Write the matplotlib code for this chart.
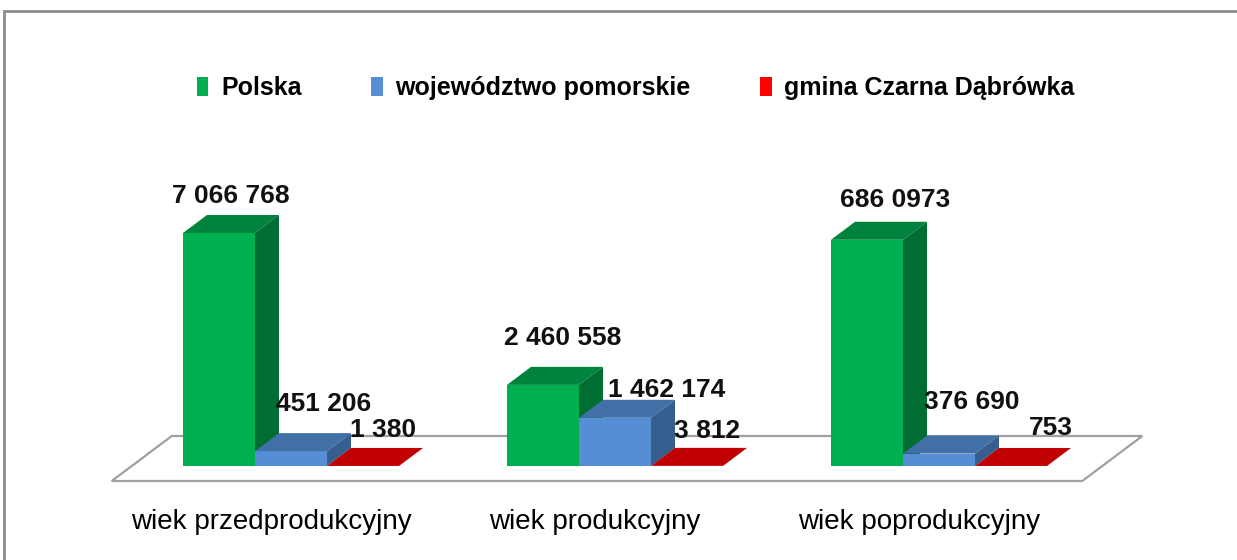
import numpy as np
import matplotlib
matplotlib.use("Agg")
import matplotlib.pyplot as plt
from matplotlib.patches import Polygon, Rectangle, Patch

plt.rcParams['font.family'] = ['Liberation Sans', 'DejaVu Sans']

# data
categories = ['wiek przedprodukcyjny', 'wiek produkcyjny', 'wiek poprodukcyjny']
series = ['Polska', 'województwo pomorskie', 'gmina Czarna Dąbrówka']
polska = [7066768, 2460558, 6860973]
pomorskie = [451206, 1462174, 376690]
gmina = [1380, 3812, 753]
value_labels = [['7 066 768', '2 460 558', '686 0973'],
                ['451 206', '1 462 174', '376 690'],
                ['1 380', '3 812', '753']]

# style
front_c = ['#00B050', '#558ED5', '#FF0000']
top_c = ['#00843D', '#4170A6', '#C00000']
side_c = ['#006E33', '#365E8E', '#A00000']
# label nudges in pixels (dx, gap above top face), per series then category
label_dx = [[0, 8, 16], [21, 40, 21], [8, 8, 28]]
label_gap = [12, 22, 15], [22, 3, 27], [11, 10, 13]

W, H = 1237, 560
PX = 72.0          # pixels per x unit
VPX = 30330.0      # value per pixel
X0, Y0 = 291, 466  # pixel of first group centre / base line
DX = 24 / PX
DY = 18 * VPX

fig = plt.figure(figsize=(W / 100, H / 100), dpi=100)
ax = fig.add_axes([0, 0, 1, 1])
ax.set_xlim(-X0 / PX, (W - X0) / PX)
ax.set_ylim(-(H - Y0) * VPX, Y0 * VPX)
ax.axis('off')

# outer frame
fig.patches.append(Rectangle((4 / W, -0.1), 1.2, 1 - 11 / H + 0.1, transform=fig.transFigure,
                             fill=False, edgecolor='#8C8C8C', lw=2))

centers = np.arange(len(categories)) * 4.5
values = [polska, pomorskie, gmina]

# floor
fl, fr = centers[0] - 2.49, centers[-1] + 1.99
fy = -15 * VPX
floor = Polygon([(fl, fy), (fr, fy), (fr + 2.5 * DX, fy + 2.5 * DY), (fl + 2.5 * DX, fy + 2.5 * DY)],
                closed=True, facecolor='white', edgecolor='#A0A0A0', lw=1.6, zorder=1)
ax.add_patch(floor)

for g, c in enumerate(centers):
    for s in range(3):
        x = c + (s - 1)
        v = values[s][g]
        left, right = x - 0.5, x + 0.5
        ax.bar(x, v, width=1.0, color=front_c[s], zorder=2, linewidth=0)
        ax.add_patch(Polygon([(left, v), (right, v), (right + DX, v + DY), (left + DX, v + DY)],
                             closed=True, facecolor=top_c[s], lw=0, zorder=2))
        ax.add_patch(Polygon([(right, 0), (right + DX, DY), (right + DX, v + DY), (right, v)],
                             closed=True, facecolor=side_c[s], lw=0, zorder=2))
        ax.annotate(value_labels[s][g], (x + DX / 2, v + DY), xytext=(label_dx[s][g], label_gap[s][g]),
                    textcoords='offset pixels', ha='center', va='baseline',
                    fontsize=19, fontweight='bold', color='#111111', zorder=5)
    ax.text(c - 20 / PX, -56 * VPX, categories[g], ha='center', va='center', fontsize=20, color='black')

handles = [Patch(facecolor=front_c[i], edgecolor='none') for i in range(3)]
fig.legend(handles, series, loc='center', bbox_to_anchor=(0.514, 1 - 88 / H), ncol=3, frameon=False,
           handlelength=0.45, handleheight=0.8, handletextpad=0.5, columnspacing=2.8,
           prop={'size': 18, 'weight': 'bold'})

fig.savefig('out.png', dpi=100)
